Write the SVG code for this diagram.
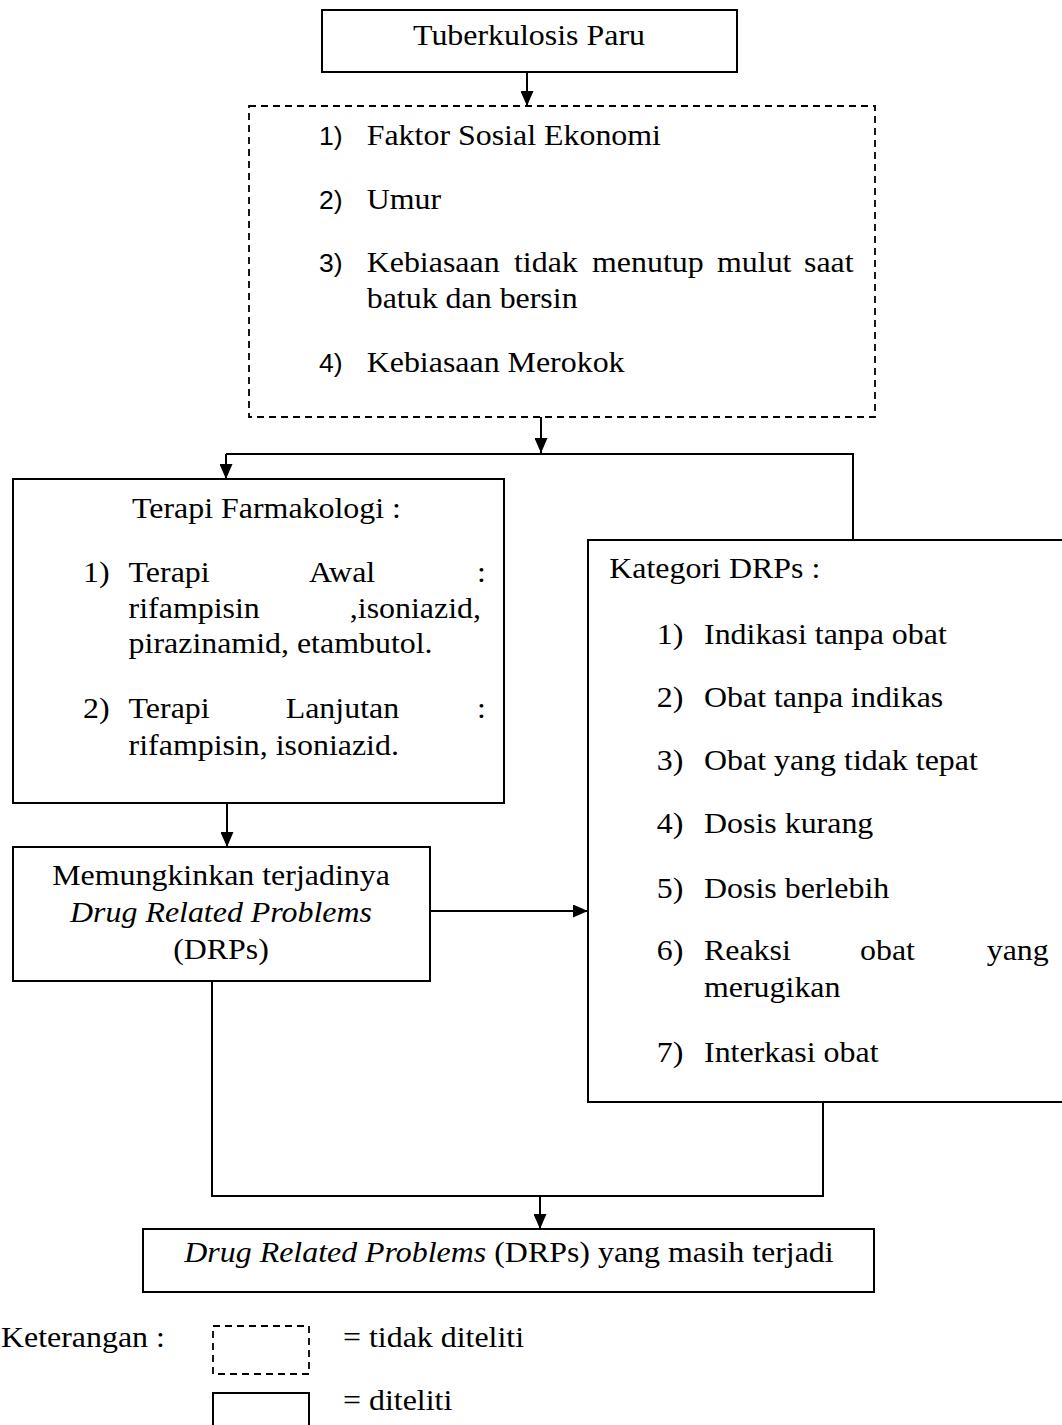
<svg xmlns="http://www.w3.org/2000/svg" width="1062" height="1425" viewBox="0 0 1062 1425">
<style>
.s{font-family:"Liberation Serif","Times New Roman",serif;font-size:28.5px;fill:#000}
.i{font-style:italic}
.n{font-family:"Liberation Sans",Arial,sans-serif;font-size:26.5px;fill:#000}
.box{fill:#fff;stroke:#000;stroke-width:2}
.dash{fill:none;stroke:#000;stroke-width:1.8;stroke-dasharray:7 5}
.ln{fill:none;stroke:#000;stroke-width:2}
</style>
<defs>
<marker id="ah" viewBox="0 0 15 13" refX="15" refY="6.5" markerWidth="15" markerHeight="13" markerUnits="userSpaceOnUse" orient="auto">
<path d="M0,0 L15,6.5 L0,13 z" fill="#000"/>
</marker>
</defs>
<rect width="1062" height="1425" fill="#fff"/>

<g id="connectors">
<path class="ln" d="M527,72 V106" marker-end="url(#ah)"/>
<path class="ln" d="M541,417 V453" marker-end="url(#ah)"/>
<path class="ln" d="M226,454 H853 V540"/>
<path class="ln" d="M226,454 V479" marker-end="url(#ah)"/>
<path class="ln" d="M227,803 V847" marker-end="url(#ah)"/>
<path class="ln" d="M430,911 H588" marker-end="url(#ah)"/>
<path class="ln" d="M212,981 V1196 H823 V1102"/>
<path class="ln" d="M540,1196 V1229" marker-end="url(#ah)"/>
</g>

<g id="tuberkulosis">
<rect class="box" x="322" y="10" width="415" height="62"/>
<text class="s" text-anchor="middle" transform="translate(529,45) scale(1.12,1)">Tuberkulosis Paru</text>
</g>

<g id="faktor-risiko">
<rect class="dash" x="249" y="106" width="626" height="311"/>
<text class="n" x="319" y="145">1)</text>
<text class="s" transform="translate(366.7,145) scale(1.12,1)">Faktor Sosial Ekonomi</text>
<text class="n" x="319" y="209">2)</text>
<text class="s" transform="translate(366.7,209) scale(1.12,1)">Umur</text>
<text class="n" x="319" y="272">3)</text>
<text class="s" transform="translate(366.7,272) scale(1.12,1)">Kebiasaan</text>
<text class="s" transform="translate(514,272) scale(1.12,1)">tidak</text>
<text class="s" transform="translate(592,272) scale(1.12,1)">menutup</text>
<text class="s" transform="translate(717,272) scale(1.12,1)">mulut</text>
<text class="s" transform="translate(804,272) scale(1.12,1)">saat</text>
<text class="s" transform="translate(366.7,308) scale(1.12,1)">batuk dan bersin</text>
<text class="n" x="319" y="372">4)</text>
<text class="s" transform="translate(366.7,372) scale(1.12,1)">Kebiasaan Merokok</text>
</g>

<g id="terapi">
<rect class="box" x="13" y="479" width="491" height="324"/>
<text class="s" transform="translate(132,518) scale(1.12,1)">Terapi Farmakologi :</text>
<text class="s" transform="translate(83,582) scale(1.12,1)">1)</text>
<text class="s" transform="translate(128.6,582) scale(1.12,1)">Terapi</text>
<text class="s" transform="translate(309,582) scale(1.12,1)">Awal</text>
<text class="s" transform="translate(477,582) scale(1.12,1)">:</text>
<text class="s" transform="translate(128.6,618) scale(1.12,1)">rifampisin</text>
<text class="s" text-anchor="end" transform="translate(481,618) scale(1.12,1)">,isoniazid,</text>
<text class="s" transform="translate(128.6,653) scale(1.12,1)">pirazinamid, etambutol.</text>
<text class="s" transform="translate(83,718) scale(1.12,1)">2)</text>
<text class="s" transform="translate(128.6,718) scale(1.12,1)">Terapi</text>
<text class="s" transform="translate(285.7,718) scale(1.12,1)">Lanjutan</text>
<text class="s" transform="translate(477,718) scale(1.12,1)">:</text>
<text class="s" transform="translate(128.6,755) scale(1.12,1)">rifampisin, isoniazid.</text>
</g>

<g id="memungkinkan">
<rect class="box" x="13" y="847" width="417" height="134"/>
<text class="s" text-anchor="middle" transform="translate(221,885) scale(1.12,1)">Memungkinkan terjadinya</text>
<text class="s i" text-anchor="middle" transform="translate(221,922) scale(1.12,1)">Drug Related Problems</text>
<text class="s" text-anchor="middle" transform="translate(221,959) scale(1.12,1)">(DRPs)</text>
</g>

<g id="kategori">
<rect class="box" x="588" y="540" width="490" height="562"/>
<text class="s" transform="translate(609.3,578) scale(1.12,1)">Kategori DRPs :</text>
<text class="s" transform="translate(656.7,644) scale(1.12,1)">1)</text>
<text class="s" transform="translate(704,644) scale(1.12,1)">Indikasi tanpa obat</text>
<text class="s" transform="translate(656.7,707) scale(1.12,1)">2)</text>
<text class="s" transform="translate(704,707) scale(1.12,1)">Obat tanpa indikas</text>
<text class="s" transform="translate(656.7,770) scale(1.12,1)">3)</text>
<text class="s" transform="translate(704,770) scale(1.12,1)">Obat yang tidak tepat</text>
<text class="s" transform="translate(656.7,833) scale(1.12,1)">4)</text>
<text class="s" transform="translate(704,833) scale(1.12,1)">Dosis kurang</text>
<text class="s" transform="translate(656.7,898) scale(1.12,1)">5)</text>
<text class="s" transform="translate(704,898) scale(1.12,1)">Dosis berlebih</text>
<text class="s" transform="translate(656.7,960) scale(1.12,1)">6)</text>
<text class="s" transform="translate(704,960) scale(1.12,1)">Reaksi</text>
<text class="s" transform="translate(860,960) scale(1.12,1)">obat</text>
<text class="s" transform="translate(986.7,960) scale(1.12,1)">yang</text>
<text class="s" transform="translate(704,997) scale(1.12,1)">merugikan</text>
<text class="s" transform="translate(656.7,1062) scale(1.12,1)">7)</text>
<text class="s" transform="translate(704,1062) scale(1.12,1)">Interkasi obat</text>
</g>

<g id="drps-terjadi">
<rect class="box" x="143" y="1229" width="731" height="63"/>
<text class="s" text-anchor="middle" transform="translate(509,1262) scale(1.12,1)"><tspan class="i">Drug Related Problems</tspan> (DRPs) yang masih terjadi</text>
</g>

<g id="legend">
<text class="s" transform="translate(1,1347) scale(1.12,1)">Keterangan :</text>
<rect class="dash" x="213" y="1326" width="96" height="48"/>
<text class="s" transform="translate(343,1347) scale(1.12,1)">= tidak diteliti</text>
<rect class="box" x="213" y="1393" width="96" height="40"/>
<text class="s" transform="translate(343,1410) scale(1.12,1)">= diteliti</text>
</g>
</svg>
